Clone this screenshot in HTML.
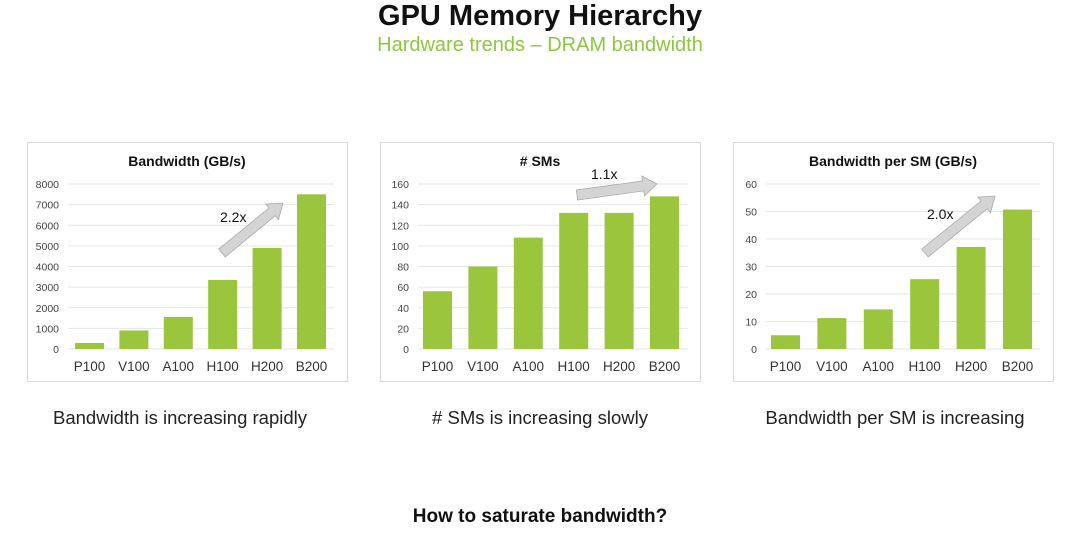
<!DOCTYPE html>
<html><head><meta charset="utf-8"><style>
body{margin:0;background:#fff;width:1080px;height:534px;overflow:hidden;font-family:"Liberation Sans",sans-serif;position:relative}
.t{position:absolute;left:0;width:1080px;text-align:center;white-space:nowrap}
</style></head><body>
<div class="t" style="top:0px;font-size:29px;font-weight:bold;color:#111">GPU Memory Hierarchy</div>
<div class="t" style="top:34px;font-size:20px;color:#8dc63f">Hardware trends – DRAM bandwidth</div>
<svg id="s" width="1080" height="534" style="position:absolute;left:0;top:0"></svg>
<div class="t" style="top:407px;font-size:18.5px;color:#222;left:-360px">Bandwidth is increasing rapidly</div>
<div class="t" style="top:407px;font-size:18.5px;color:#222;left:0">&#35; SMs is increasing slowly</div>
<div class="t" style="top:407px;font-size:18.5px;color:#222;left:355px">Bandwidth per SM is increasing</div>
<div class="t" style="top:506px;font-size:19px;color:#111;font-weight:bold">How to saturate bandwidth?</div>
<script>
var charts=[
{bx:27,title:"Bandwidth (GB/s)",max:8000,step:1000,vals:[290,900,1555,3350,4900,7500],b0:75,bs:44.4,gx0:68,gx1:334,
 arr:[222,253,283,203],lab:"2.2x",lx:220,ly:222},
{bx:380,title:"# SMs",max:160,step:20,vals:[56,80,108,132,132,148],b0:423,bs:45.4,gx0:418,gx1:688,
 arr:[577,195,657,184],lab:"1.1x",lx:591,ly:179},
{bx:733,title:"Bandwidth per SM (GB/s)",max:60,step:10,vals:[5,11.25,14.4,25.4,37.1,50.7],b0:771,bs:46.4,gx0:766,gx1:1040,
 arr:[925,253,995,196],lab:"2.0x",lx:927,ly:219}];
var names=["P100","V100","A100","H100","H200","B200"];
var h='';
charts.forEach(function(c){
 h+='<rect x="'+(c.bx+0.5)+'" y="142.5" width="320" height="239" fill="#fff" stroke="#d9d9d9"/>';
 h+='<text x="'+(c.bx+160)+'" y="166" font-size="14" font-weight="bold" text-anchor="middle" fill="#111">'+c.title+'</text>';
 var y0=349,y1=184;
 for(var v=0;v<=c.max;v+=c.step){var y=y0-(y0-y1)*v/c.max;
  h+='<line x1="'+c.gx0+'" x2="'+c.gx1+'" y1="'+y+'" y2="'+y+'" stroke="#e6e6e6"/>';
  h+='<text x="'+(c.gx0-9)+'" y="'+(y+4)+'" font-size="10.5" text-anchor="end" fill="#444">'+v+'</text>';}
 c.vals.forEach(function(v,i){var x=c.b0+c.bs*i,hh=(y0-y1)*v/c.max;
  h+='<rect x="'+x+'" y="'+(y0-hh)+'" width="29" height="'+hh+'" fill="#9bc53d"/>';
  h+='<text x="'+(x+14.5)+'" y="371" font-size="13.5" text-anchor="middle" fill="#333">'+names[i]+'</text>';});
 var a=c.arr,dx=a[2]-a[0],dy=a[3]-a[1],L=Math.sqrt(dx*dx+dy*dy),ux=dx/L,uy=dy/L,nx=-uy,ny=ux,w=5,hw=10,hl=14;
 var bx=a[2]-ux*hl,by=a[3]-uy*hl;
 var p=[[a[0]+nx*w,a[1]+ny*w],[bx+nx*w,by+ny*w],[bx+nx*hw,by+ny*hw],[a[2],a[3]],[bx-nx*hw,by-ny*hw],[bx-nx*w,by-ny*w],[a[0]-nx*w,a[1]-ny*w]];
 h+='<polygon points="'+p.map(function(q){return q[0].toFixed(1)+','+q[1].toFixed(1)}).join(' ')+'" fill="#d4d4d4" stroke="#aaa" stroke-width="0.8"/>';
 h+='<text x="'+c.lx+'" y="'+c.ly+'" font-size="14" fill="#111">'+c.lab+'</text>';
});
document.getElementById('s').innerHTML=h;
</script>
</body></html>
